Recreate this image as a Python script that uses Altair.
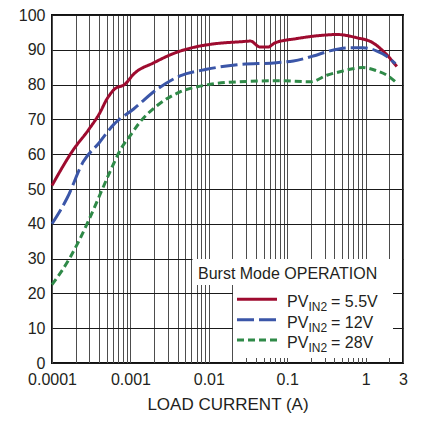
import altair as alt
import pandas as pd

# ---- data ----
series = ["5.5V", "12V", "28V"]
series_eq = ["= 5.5V", "= 12V", "= 28V"]
colors = ["#9e0b2f", "#3b56a8", "#2f8a48"]
dashes = [[1, 0], [17, 5], [7, 4]]

red_x = [0.0001, 0.00019, 0.00029, 0.00041, 0.0005, 0.00062, 0.00086, 0.0011, 0.002, 0.0036,
         0.0064, 0.0126, 0.025, 0.034, 0.045, 0.057, 0.07, 0.13, 0.26, 0.43, 0.76, 1.24, 1.75, 2.5]
red_y = [51.0, 61.5, 66.9, 72.0, 75.8, 78.6, 80.2, 83.0, 86.3, 89.0,
         90.7, 91.8, 92.3, 92.5, 90.8, 90.8, 92.0, 93.2, 94.1, 94.4, 93.5, 92.0, 89.2, 85.2]

blue_x = [0.0001, 0.000156, 0.00025, 0.0004, 0.00061, 0.0011, 0.0022, 0.0043, 0.0094, 0.023,
          0.073, 0.12, 0.215, 0.35, 0.63, 0.93, 1.37, 1.84, 2.4]
blue_y = [40.0, 47.4, 57.8, 63.3, 68.5, 73.0, 78.7, 82.5, 84.4, 85.7,
          86.3, 86.8, 88.2, 89.7, 90.6, 90.6, 89.7, 88.2, 86.0]

green_x = [0.0001, 0.00017, 0.00029, 0.00038, 0.00055, 0.00076, 0.001, 0.0013, 0.0022, 0.0043,
           0.0094, 0.023, 0.08, 0.2, 0.32, 0.47, 0.63, 0.93, 1.37, 1.93, 2.47]
green_y = [22.5, 30.3, 40.7, 46.7, 55.0, 61.6, 65.4, 69.0, 74.0, 77.9,
           79.9, 80.8, 81.1, 80.8, 82.7, 83.7, 84.4, 84.9, 84.0, 82.5, 80.6]

tick_vals = [0.0001, 0.001, 0.01, 0.1, 1, 3]
tick_labels = ["0.0001", "0.001", "0.01", "0.1", "1", "3"]
y_ticks = list(range(0, 101, 10))
legend_title = "Burst Mode OPERATION"

# ---- tables ----
rows = []
for name, xs, ys in [(series[0], red_x, red_y), (series[1], blue_x, blue_y), (series[2], green_x, green_y)]:
    for i, (a, b) in enumerate(zip(xs, ys)):
        rows.append({"series": name, "x": a, "y": b, "order": i})
df = pd.DataFrame(rows)
leg = pd.DataFrame({"series": series, "eq": series_eq})
one = pd.DataFrame({"k": [0]})

grid_vals = []
for d in [0.0001, 0.001, 0.01, 0.1, 1]:
    for m in range(1, 10):
        v = round(m * d, 10)
        if v <= 3:
            grid_vals.append(v)

label_expr = " : ".join(
    f"abs(datum.value - {v}) < {v}*1e-6 ? '{l}'" for v, l in zip(tick_vals, tick_labels)
) + " : ''"

FONT = "Liberation Sans"
TXT = "#231f20"

color_enc = alt.Color("series:N", scale=alt.Scale(domain=series, range=colors), legend=None)
dash_enc = alt.StrokeDash("series:N", scale=alt.Scale(domain=series, range=dashes), legend=None)

lines = alt.Chart(df).mark_line(strokeWidth=3, interpolate="monotone").encode(
    x=alt.X("x:Q",
            scale=alt.Scale(type="log", domain=[0.0001, 3], nice=False),
            axis=alt.Axis(values=grid_vals, grid=True, ticks=False, domain=False,
                          labelExpr=label_expr, labelOverlap=False, labelFlush=False,
                          labelFontSize=16, labelPadding=8, labelColor=TXT,
                          title="LOAD CURRENT (A)", titleFontSize=17, titleFontWeight="normal",
                          titleColor=TXT, titlePadding=9,
                          gridColor="#4d4d4d", gridWidth=1)),
    y=alt.Y("y:Q",
            scale=alt.Scale(domain=[0, 100], nice=False),
            axis=alt.Axis(values=y_ticks, grid=True, ticks=False, domain=False,
                          labelFontSize=16, labelPadding=7, labelColor=TXT, title=None,
                          gridColor="#1a1a1a", gridWidth=1)),
    color=color_enc,
    strokeDash=dash_enc,
    order="order:Q",
)

# white background boxes of the legend
box_title = alt.Chart(one).mark_rect(fill="white").encode(
    x=alt.value(140.5), x2=alt.value(350), y=alt.value(244), y2=alt.value(270))
box_items = alt.Chart(one).mark_rect(fill="white").encode(
    x=alt.value(181), x2=alt.value(341), y=alt.value(269), y2=alt.value(343))

title_txt = alt.Chart(one).mark_text(align="left", baseline="alphabetic", fontSize=16,
                                     font=FONT, color=TXT).encode(
    x=alt.value(146), y=alt.value(263.5), text=alt.value(legend_title))

ypos = alt.Y("series:N", scale=alt.Scale(type="point", domain=series, range=[284.3, 325], padding=0),
             axis=None)

leg_lines = alt.Chart(leg).mark_rule(strokeWidth=3).encode(
    x=alt.value(185), x2=alt.value(225), y=ypos, color=color_enc, strokeDash=dash_enc)
leg_pv = alt.Chart(leg).mark_text(align="left", baseline="alphabetic", fontSize=16, dy=8,
                                  font=FONT, color=TXT).encode(
    x=alt.value(235), y=ypos, text=alt.value("PV"))
leg_sub = alt.Chart(leg).mark_text(align="left", baseline="alphabetic", fontSize=12, dy=12,
                                   font=FONT, color=TXT).encode(
    x=alt.value(256.5), y=ypos, text=alt.value("IN2"))
leg_eq = alt.Chart(leg).mark_text(align="left", baseline="alphabetic", fontSize=16, dy=8,
                                  font=FONT, color=TXT).encode(
    x=alt.value(279), y=ypos, text="eq:N")

chart = alt.layer(lines, box_title, box_items, title_txt, leg_lines, leg_pv, leg_sub, leg_eq).resolve_scale(
    y="independent"
).properties(
    width=351, height=348,
    padding={"left": 44, "top": 7, "right": 10, "bottom": 55},
    autosize=alt.AutoSizeParams(type="none"),
).configure(font=FONT).configure_view(stroke="#111111", strokeWidth=2)

chart.save("out.html", embed_options={"renderer": "svg", "actions": False})
